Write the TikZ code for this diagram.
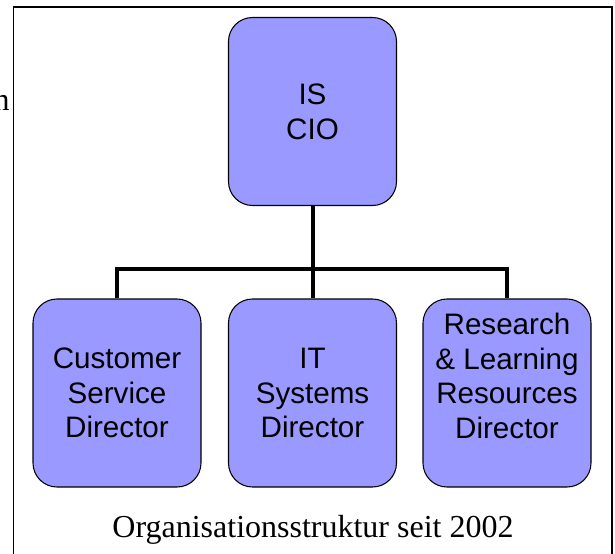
\documentclass[tikz,border=0pt]{standalone}
\usepackage{fontspec}
\setmainfont{Liberation Serif}
\setsansfont{Liberation Sans}
\usepackage{tikz}

\definecolor{boxblue}{RGB}{153,153,255}

\begin{document}
\begin{tikzpicture}[x=0.75pt, y=-0.75pt,
	every node/.style={inner sep=0pt},
	box/.style={rectangle, rounded corners=18pt, draw=black, line width=0.8pt, fill=boxblue, minimum width=126pt, minimum height=141pt, align=center, font=\sffamily\fontsize{22.2pt}{26pt}\selectfont},
	conn/.style={draw=black, line width=3pt}]
			\useasboundingbox (0,0) rectangle (615,554);
			\draw[line width=1.1pt] (13.5,7) rectangle (612,570);
			\node[anchor=base east, font=\fontsize{24pt}{28pt}\selectfont] (cut) at (10,110) {n};
			
			\node[box] (cio) at (312.5,111.5) {IS\\CIO};
			\node[box] (csd) at (117,393) {Customer\\Service\\Director};
			\node[box] (its) at (312.5,393) {IT\\Systems\\Director};
			\node[box] (rld) at (507,393) {Research\\\& Learning\\Resources\\Director\\\mbox{}};
			\coordinate (split) at (312.5,269);
			
			\path[conn] (cio) edge (its);
			\draw[conn] (csd.north) |- (split) -| (rld.north);
			
			\node[anchor=base, font=\fontsize{24pt}{28pt}\selectfont] (caption) at (313,537) {Organisationsstruktur seit 2002};
			\end{tikzpicture}
\end{document}
